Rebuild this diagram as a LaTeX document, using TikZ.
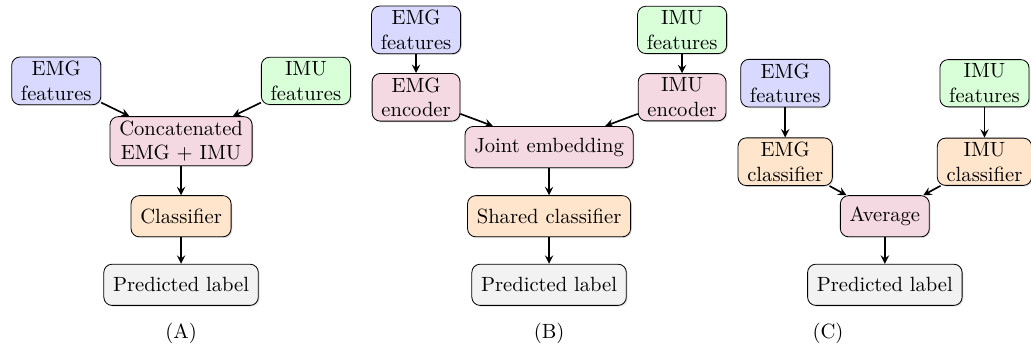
\documentclass[tikz,border=0pt]{standalone}
\usepackage{tikz}
\usetikzlibrary{arrows,positioning,shadows}

\tikzset{
  block/.style={draw, rounded corners=4pt, align=center, inner xsep=4.5pt, inner ysep=2pt,
                minimum height=20pt, drop shadow={opacity=0.25, shadow xshift=0.6pt, shadow yshift=-0.6pt}},
  emgbox/.style={block, fill=blue!15},
  imubox/.style={block, fill=green!15},
  mixbox/.style={block, fill=purple!15},
  clsbox/.style={block, fill=orange!20},
  outbox/.style={block, fill=gray!10},
  flow/.style={->, >=stealth, thick}
}

\begin{document}
\begin{tikzpicture}
  \useasboundingbox (0,0) rectangle (17.594,-6.007);

  % (A) early fusion
  \node[emgbox] (emgA) at (0.96,-1.38) {EMG\\features};
  \node[imubox] (imuA) at (5.22,-1.38) {IMU\\features};
  \node[mixbox] (catA) at (3.09,-2.41) {Concatenated\\EMG + IMU};
  \node[clsbox] (clsA) at (3.09,-3.69) {Classifier};
  \node[outbox] (predA) at (3.09,-4.86) {Predicted label};
  \node (capA) at (3.09,-5.68) {(A)};

  \draw[flow] (emgA) -- (catA);
  \draw[flow] (imuA) -- (catA);
  \draw[flow] (catA) -- (clsA);
  \draw[flow] (clsA) -- (predA);

  % (B) joint embedding
  \node[emgbox] (emgB) at (7.10,-0.51) {EMG\\features};
  \node[mixbox] (encEB) at (7.10,-1.66) {EMG\\encoder};
  \node[imubox] (imuB) at (11.64,-0.51) {IMU\\features};
  \node[mixbox] (encIB) at (11.64,-1.66) {IMU\\encoder};
  \node[mixbox] (jointB) at (9.37,-2.51) {Joint embedding};
  \node[clsbox] (clsB) at (9.37,-3.69) {Shared classifier};
  \node[outbox] (predB) at (9.37,-4.86) {Predicted label};
  \node (capB) at (9.37,-5.68) {(B)};

  \draw[flow] (emgB) -- (encEB);
  \draw[flow] (imuB) -- (encIB);
  \draw[flow] (encEB) -- (jointB);
  \draw[flow] (encIB) -- (jointB);
  \draw[flow] (jointB) -- (clsB);
  \draw[flow] (clsB) -- (predB);

  % (C) late fusion
  \node[emgbox] (emgC) at (13.40,-1.42) {EMG\\features};
  \node[imubox] (imuC) at (16.80,-1.42) {IMU\\features};
  \node[clsbox] (clsEC) at (13.40,-2.76) {EMG\\classifier};
  \node[clsbox] (clsIC) at (16.80,-2.76) {IMU\\classifier};
  \node[mixbox] (avgC) at (15.10,-3.69) {Average};
  \node[outbox] (predC) at (15.10,-4.86) {Predicted label};
  \node (capC) at (14.13,-5.68) {(C)};

  \draw[flow] (emgC) -- (clsEC);
  \draw[flow] (imuC) -- (clsIC);
  \draw[flow] (clsEC) -- (avgC);
  \draw[flow] (clsIC) -- (avgC);
  \draw[flow] (avgC) -- (predC);
\end{tikzpicture}
\end{document}
